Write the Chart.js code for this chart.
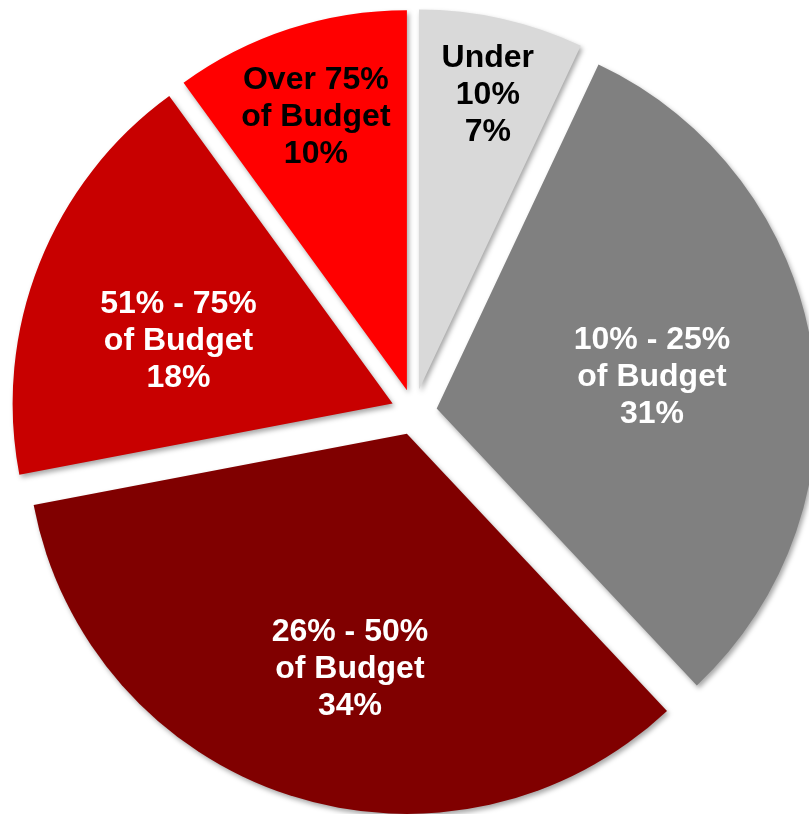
<!DOCTYPE html>
<html>
<head>
<meta charset="utf-8">
<script src="https://cdn.jsdelivr.net/npm/chart.js@4/dist/chart.umd.min.js"></script>
<style>
  html, body { margin: 0; padding: 0; background: #ffffff; overflow: hidden; }
  #wrap { width: 809px; height: 814px; }
</style>
</head>
<body>
<div id="wrap"><canvas id="pie" width="809" height="814"></canvas></div>
<script>
// Share of projects by how much of the budget was spent
const categories = ['Under 10%', '10% - 25% of Budget', '26% - 50% of Budget', '51% - 75% of Budget', 'Over 75% of Budget'];
const labelLines = [
  ['Under', '10%', '7%'],
  ['10% - 25%', 'of Budget', '31%'],
  ['26% - 50%', 'of Budget', '34%'],
  ['51% - 75%', 'of Budget', '18%'],
  ['Over 75%', 'of Budget', '10%']
];
const shares = [7, 31, 34, 18, 10];

const sliceColors = ['#D9D9D9', '#808080', '#800000', '#C80000', '#FF0000'];
const textColors = ['#000000', '#FFFFFF', '#FFFFFF', '#FFFFFF', '#000000'];

// Each slice is pulled out from the centre by this many pixels
const EXPLODE = 23;
// Label placement: fraction of the radius from the centre, and angular nudge in degrees
const labelRadius = [0.857, 0.633, 0.697, 0.647, 0.818];
const labelNudge = [0.5, 0.6, -4, -4.9, -0.4];

const explodedPie = {
  id: 'explodedPie',
  beforeDatasetDraw(chart, args) {
    const ctx = chart.ctx;
    const meta = args.meta;
    meta.data.forEach((arc) => {
      const p = arc.getProps(['startAngle', 'endAngle'], true);
      const mid = (p.startAngle + p.endAngle) / 2;
      ctx.save();
      ctx.shadowColor = 'rgba(0,0,0,0.35)';
      ctx.shadowBlur = 5;
      ctx.shadowOffsetX = 2;
      ctx.shadowOffsetY = 3;
      ctx.translate(Math.cos(mid) * EXPLODE, Math.sin(mid) * EXPLODE);
      arc.draw(ctx);
      ctx.restore();
    });
    return false;
  },
  afterDatasetsDraw(chart) {
    const ctx = chart.ctx;
    const meta = chart.getDatasetMeta(0);
    const lineHeight = 37;
    ctx.save();
    ctx.font = 'bold 32px "Liberation Sans", Arial, sans-serif';
    ctx.textAlign = 'center';
    ctx.textBaseline = 'middle';
    meta.data.forEach((arc, i) => {
      const p = arc.getProps(['x', 'y', 'startAngle', 'endAngle', 'outerRadius'], true);
      const ang = (p.startAngle + p.endAngle) / 2 + labelNudge[i] * Math.PI / 180;
      const d = p.outerRadius * labelRadius[i];
      const cx = p.x + Math.cos(ang) * d;
      const cy = p.y + Math.sin(ang) * d;
      const lines = labelLines[i];
      ctx.fillStyle = textColors[i];
      lines.forEach((t, k) => {
        ctx.fillText(t, cx, cy + (k - (lines.length - 1) / 2) * lineHeight);
      });
    });
    ctx.restore();
  }
};

new Chart(document.getElementById('pie'), {
  type: 'pie',
  data: {
    labels: categories,
    datasets: [{
      data: shares,
      backgroundColor: sliceColors,
      borderWidth: 0,
      hoverOffset: 0
    }]
  },
  options: {
    responsive: false,
    animation: false,
    events: [],
    radius: 380,
    layout: { padding: { left: 19, top: 10, right: 0, bottom: 0 } },
    plugins: {
      legend: { display: false },
      tooltip: { enabled: false }
    }
  },
  plugins: [explodedPie]
});
</script>
</body>
</html>
